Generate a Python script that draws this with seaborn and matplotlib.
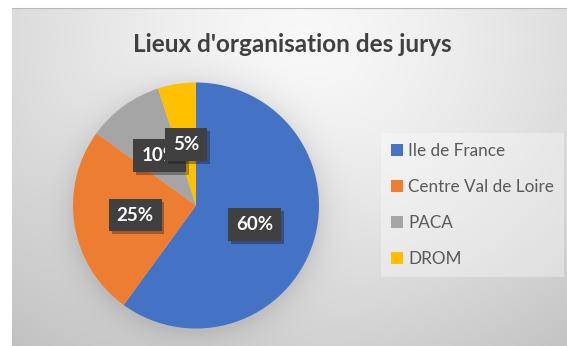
import numpy as np
import matplotlib
matplotlib.use("Agg")
import matplotlib.pyplot as plt
import matplotlib.patheffects as pe
from matplotlib.patches import Patch
import seaborn as sns

# Chart data
regions = ["Ile de France", "Centre Val de Loire", "PACA", "DROM"]
shares = [60, 25, 10, 5]
colors = ["#4472C4", "#ED7D31", "#A5A5A5", "#FFC000"]
title = "Lieux d'organisation des jurys"

sns.set_theme(style="white")
plt.rcParams["font.family"] = ["Lato", "DejaVu Sans"]

W, H = 567, 346
fig = plt.figure(figsize=(W / 100, H / 100), dpi=100, facecolor="white")

# Panel background: soft radial gradient with a shadow under the pie
px0, py0 = 12, 8
pw, ph = W - px0, H - py0
yy, xx = np.mgrid[0:ph, 0:pw].astype(float)
xx += px0
yy += py0
r = np.sqrt(((xx - 300) / 380) ** 2 + ((yy - 40) / 330) ** 2)
v = 0.975 - 0.17 * np.clip(r, 0, 1.25) ** 1.4
pc_x, pc_y, R = 196.0, 205.5, 123.0
d = np.sqrt((xx - pc_x) ** 2 + (yy - pc_y - 3) ** 2) - R
shadow = 0.09 * np.exp(-np.clip(d, 0, None) / 14.0)
v = v - shadow
bg = fig.add_axes([px0 / W, 0, pw / W, ph / H])
bg.imshow(np.dstack([v, v, v]), aspect="auto", interpolation="bilinear")
bg.axis("off")
fig.add_artist(plt.Line2D([px0 / W, 1], [1 - py0 / H] * 2, color="#b8b8b8", lw=0.8))

# Pie
ax = fig.add_axes([(pc_x - R) / W, (H - pc_y - R) / H, 2 * R / W, 2 * R / H])
wedges, texts, autotexts = ax.pie(
    shares,
    colors=colors,
    startangle=90,
    counterclock=False,
    radius=1.0,
    autopct=lambda p: f"{p:.0f}%",
    pctdistance=0.5,
    wedgeprops=dict(linewidth=0),
    textprops=dict(color="white", fontsize=13.5, fontweight="bold"),
)
for t in autotexts:
    t.set_bbox(dict(boxstyle="square,pad=0.42", fc="#404040", ec="none"))
    t.get_bbox_patch().set_path_effects(
        [pe.SimplePatchShadow(offset=(2, -2), alpha=0.35), pe.Normal()]
    )
ax.set_xlim(-1, 1)
ax.set_ylim(-1, 1)
ax.set_aspect("auto")
ax.axis("off")

# Title
fig.text(292 / W, 1 - 52 / H, title, ha="center", va="baseline",
         fontsize=17.5, fontweight="bold", color="#404040")

# Legend
handles = [Patch(facecolor=c, edgecolor="none") for c in colors]
leg = fig.legend(
    handles, regions,
    loc="upper left", bbox_to_anchor=(381 / W, 1 - 133 / H),
    fontsize=12.3, frameon=True, fancybox=False,
    handlelength=0.7, handleheight=0.7, handletextpad=0.3,
    labelspacing=1.17, borderpad=0.6, borderaxespad=0,
    labelcolor="#595959",
)
fr = leg.get_frame()
fr.set_facecolor("white")
fr.set_alpha(0.35)
fr.set_edgecolor("none")

fig.savefig("out.png", dpi=100, facecolor="white")
